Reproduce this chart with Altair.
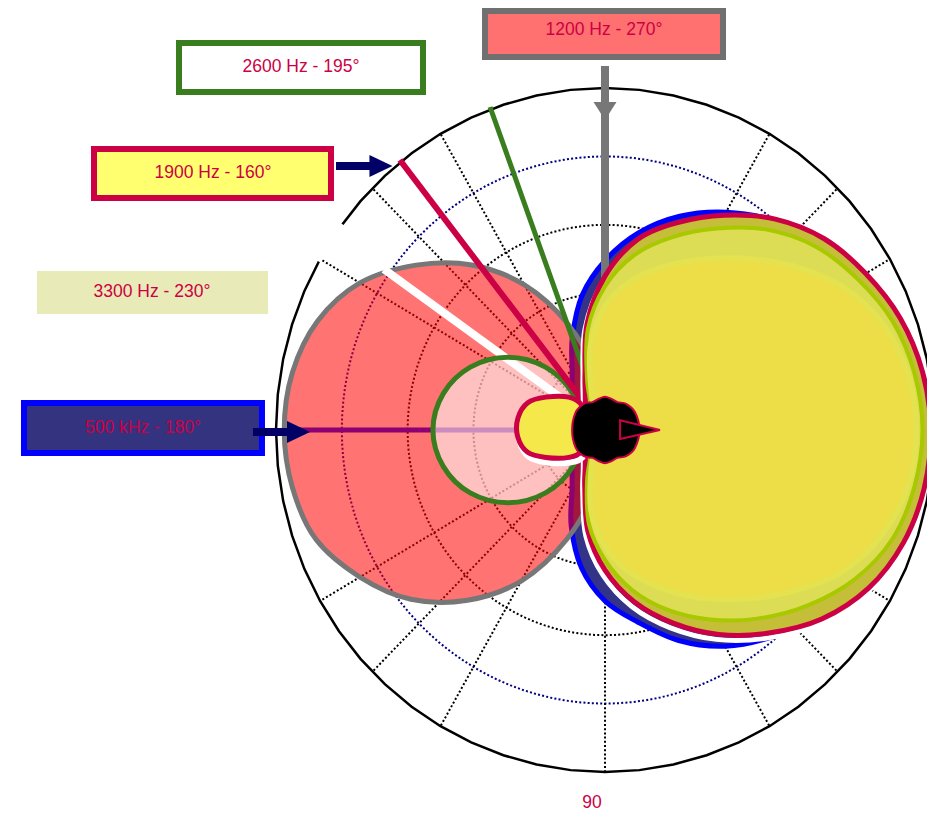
import altair as alt
import pandas as pd

# ---------------- data (angle in degrees, counter-clockwise from the right; radius relative) ----------------
BIG_ANGLES = list(range(0, 360, 10))
R_500K = [0.95, 0.945, 0.925, 0.895, 0.86, 0.80, 0.735, 0.665, 0.585, 0.495, 0.40, 0.29,
          0.20, 0.156, 0.13, 0.115, 0.106, 0.102, 0.10, 0.102, 0.106, 0.115, 0.13, 0.156,
          0.20, 0.30, 0.41, 0.50, 0.57, 0.655, 0.73, 0.79, 0.845, 0.89, 0.92, 0.94]
R_1900 = [0.99, 0.98, 0.955, 0.915, 0.87, 0.805, 0.725, 0.645, 0.565, 0.45, 0.315, 0.178,
          0.12, 0.093, 0.078, 0.069, 0.064, 0.061, 0.06, 0.061, 0.064, 0.069, 0.078, 0.093,
          0.12, 0.18, 0.30, 0.41, 0.51, 0.60, 0.69, 0.775, 0.86, 0.925, 0.965, 0.985]
R_INNER = [0.965, 0.955, 0.93, 0.885, 0.835, 0.765, 0.68, 0.60, 0.52, 0.42, 0.30, 0.16,
           0.085, 0.064, 0.054, 0.048, 0.044, 0.042, 0.041, 0.042, 0.044, 0.048, 0.054, 0.064,
           0.085, 0.16, 0.28, 0.38, 0.475, 0.56, 0.64, 0.72, 0.80, 0.875, 0.93, 0.955]
R_CORE = [0.945, 0.935, 0.90, 0.835, 0.745, 0.655, 0.575, 0.505, 0.44, 0.36, 0.25, 0.12,
          0.06, 0.045, 0.038, 0.034, 0.032, 0.03, 0.03, 0.03, 0.032, 0.034, 0.038, 0.045,
          0.06, 0.12, 0.24, 0.34, 0.42, 0.49, 0.565, 0.645, 0.735, 0.83, 0.895, 0.935]

RED_ANGLES = list(range(90, 270, 10))
R_1200 = [0.0, 0.17, 0.33, 0.49, 0.63, 0.75, 0.86, 0.93, 0.965, 0.975, 0.965, 0.935,
          0.86, 0.77, 0.65, 0.51, 0.34, 0.17]

GREEN_ANGLES = [180, 132.6, 134.5, 144.2, 155.8, 167.8, 180, 192.2, 204.2, 215.8, 225.5, 227.4]
R_2600 = [0.067, 0.145, 0.258, 0.364, 0.449, 0.503, 0.523, 0.503, 0.449, 0.364, 0.258, 0.145]

OVAL_ANGLES = [180, 135, 138.9, 151.9, 161.2, 172.5, 184.3, 195.5, 204, 216, 220.6]
R_OVAL = [0.06, 0.099, 0.146, 0.204, 0.248, 0.267, 0.266, 0.244, 0.197, 0.136, 0.092]

BLOB_ANGLES = [0, 30, 50, 65, 80, 90, 100, 115, 130, 150,
               180, 210, 230, 245, 260, 270, 280, 295, 310, 330]
R_BLOB = [0.105, 0.105, 0.10, 0.09, 0.094, 0.097, 0.094, 0.09, 0.10, 0.103,
          0.10, 0.103, 0.10, 0.09, 0.094, 0.097, 0.094, 0.09, 0.10, 0.105]

TRI_ANGLES = [0, 32, 330]
R_TRI = [0.167, 0.054, 0.053]

DIR_NAMES = ["1200", "500k", "3300", "2600", "1900"]
DIR_ANGLES = [90, 180, 145, 110.3, 128.3]
DIR_R0 = [0.0, 0.0, 0.15, 0.05, 0.05]
DIR_R1 = [1.064, 0.93, 0.82, 1.007, 1.006]
GAP_ANGLES = [143, 145, 147, 149, 150.5]   # white break in the outer ring (3300 Hz trace)

RING_R = [0.2, 0.4, 0.6]
RING_R_BLUE = [0.8]
SPOKE_ANGLES = [0, 30, 45, 60, 90, 120, 135, 150, 180, 210, 225, 240, 270, 300, 315, 330]

LABELS = ["1200 Hz - 270°", "2600 Hz - 195°", "1900 Hz - 160°", "3300 Hz - 230°", "500 kHz - 180°"]
ANGLE_TICK = ["90"]

# ---------------- layout (data units of the polar frame) ----------------
XMIN, XMAX = -1.81459, 0.97872
YMIN, YMAX = -1.12281, 1.23392
xs = alt.Scale(domain=[XMIN, XMAX], nice=False, zero=False)
ys = alt.Scale(domain=[YMIN, YMAX], nice=False, zero=False)
POLAR = dict(px="datum.r*cos(datum.a*PI/180)", py="datum.r*sin(datum.a*PI/180)")
FONT = "Liberation Sans, Arial, sans-serif"
FS = 17.5
CRIMSON = "#CC0044"


def enc(ch):
    return ch.encode(x=alt.X("px:Q", scale=xs, axis=None),
                     y=alt.Y("py:Q", scale=ys, axis=None),
                     order=alt.Order("i:Q"))


def lobe(angles, radii, interp="cardinal-closed", **mk):
    df = pd.DataFrame({"i": range(len(angles)), "a": angles, "r": radii})
    return enc(alt.Chart(df).transform_calculate(**POLAR).mark_line(interpolate=interp, **mk))


def rings(radii, color):
    rows = [{"ring": r, "i": k, "a": a, "r": r} for r in radii for k, a in enumerate(range(0, 360, 3))]
    ch = alt.Chart(pd.DataFrame(rows)).transform_calculate(**POLAR).mark_line(
        interpolate="linear-closed", stroke=color, strokeWidth=2, strokeDash=[2, 2.2])
    return ch.encode(x=alt.X("px:Q", scale=xs, axis=None), y=alt.Y("py:Q", scale=ys, axis=None),
                     order=alt.Order("i:Q"), detail="ring:N")


def radial(df, **mk):
    return alt.Chart(df).transform_calculate(
        px="datum.r0*cos(datum.a*PI/180)", py="datum.r0*sin(datum.a*PI/180)",
        px2="datum.r1*cos(datum.a*PI/180)", py2="datum.r1*sin(datum.a*PI/180)"
    ).mark_rule(**mk).encode(x=alt.X("px:Q", scale=xs, axis=None), y=alt.Y("py:Q", scale=ys, axis=None),
                             x2="px2:Q", y2="py2:Q")


dirs = pd.DataFrame({"name": DIR_NAMES, "a": DIR_ANGLES, "r0": DIR_R0, "r1": DIR_R1})


def dir_line(name, color, width):
    return radial(dirs[dirs.name == name], stroke=color, strokeWidth=width, strokeCap="butt")


spokes = radial(pd.DataFrame({"a": SPOKE_ANGLES, "r0": 0.0, "r1": 1.0}),
                stroke="black", strokeWidth=2, strokeDash=[2, 2.2])
outer = lobe(list(range(0, 360, 6)), [1.0] * 60, interp="linear-closed",
             stroke="black", strokeWidth=2.5, fill=None)
gap = lobe(GAP_ANGLES, [1.0] * len(GAP_ANGLES), interp="linear", stroke="white", strokeWidth=5, fill=None)

# label boxes
boxes = pd.DataFrame({
    "label": LABELS,
    "x1": [-0.3647, -1.2948, -1.5532, -1.7264, -1.7660],
    "x2": [0.3587, -0.5532, -0.8328, -1.0243, -1.0426],
    "y1": [1.0906, 0.9883, 0.6784, 0.3392, -0.0673],
    "y2": [1.2251, 1.1316, 0.8216, 0.4649, 0.0789],
    "tx": [-0.003, -0.924, -1.1915, -1.3769, -1.4043],
    "ty": [1.1696, 1.0614, 0.7515, 0.4035, 0.0058],
    "fill": ["#FF7070", "#FFFFFF", "#FFFF70", "#E8EBB8", "#333380"],
    "stroke": ["#707070", "#3A7D1E", CRIMSON, "#E8EBB8", "#0000FF"],
    "sw": [6, 6, 6, 0, 6],
})
box_layer = alt.Chart(boxes).mark_rect().encode(
    x=alt.X("x1:Q", scale=xs, axis=None), x2="x2:Q",
    y=alt.Y("y1:Q", scale=ys, axis=None), y2="y2:Q",
    fill=alt.Fill("fill:N", scale=None), stroke=alt.Stroke("stroke:N", scale=None),
    strokeWidth=alt.StrokeWidth("sw:Q", scale=None))
box_text = alt.Chart(boxes).mark_text(font=FONT, fontSize=FS, color=CRIMSON, align="center",
                                      baseline="middle").encode(
    x=alt.X("tx:Q", scale=xs, axis=None), y=alt.Y("ty:Q", scale=ys, axis=None), text="label:N")
tick_text = alt.Chart(pd.DataFrame({"t": ANGLE_TICK, "tx": [-0.0395], "ty": [-1.0906]})).mark_text(
    font=FONT, fontSize=FS, color=CRIMSON, align="center", baseline="middle").encode(
    x=alt.X("tx:Q", scale=xs, axis=None), y=alt.Y("ty:Q", scale=ys, axis=None), text="t:N")

# annotation arrows
shafts = pd.DataFrame({"x1": [-0.8176, -1.07], "x2": [-0.70, -0.951], "y": [0.7719, -0.0058]})
shaft_layer = alt.Chart(shafts).mark_rule(stroke="#000066", strokeWidth=8, strokeCap="butt").encode(
    x=alt.X("x1:Q", scale=xs, axis=None), x2="x2:Q", y=alt.Y("y:Q", scale=ys, axis=None))
heads = pd.DataFrame({"x": [-0.681, -0.9316], "y": [0.7719, -0.0058]})
head_layer = alt.Chart(heads).mark_point(shape="M-1,-0.96L1,0L-1,0.96Z", size=529, filled=True,
                                         fill="#000066", stroke=None, opacity=1).encode(
    x=alt.X("x:Q", scale=xs, axis=None), y=alt.Y("y:Q", scale=ys, axis=None))
gray_head = alt.Chart(pd.DataFrame({"x": [0.0], "y": [0.9327]})).mark_point(
    shape="M-1,-0.78L1,-0.78L0,0.78Z", size=529, filled=True, fill="#777777", stroke=None,
    opacity=1).encode(x=alt.X("x:Q", scale=xs, axis=None), y=alt.Y("y:Q", scale=ys, axis=None))

layers = [
    rings(RING_R, "black"),
    rings(RING_R_BLUE, "#000080"),
    spokes,
    outer,
    gap,
    dir_line("500k", "#0000FF", 5),
    lobe(BIG_ANGLES, R_500K, fill="#333388", stroke="#0000FF", strokeWidth=5),
    dir_line("1200", "#777777", 8),
    lobe(RED_ANGLES, R_1200, fill="#FF0000", fillOpacity=0.55, stroke="#777777", strokeWidth=5),
    dir_line("3300", "white", 8),
    lobe(GREEN_ANGLES, R_2600, fill="white", fillOpacity=0.55, stroke="#3A7D1E", strokeWidth=5),
    dir_line("2600", "#3A7D1E", 5),
    dir_line("1900", CRIMSON, 6),
    lobe(BIG_ANGLES, R_1900, stroke="white", strokeWidth=5, fill=None, yOffset=5, xOffset=-2),
    lobe(BIG_ANGLES, R_1900, fill="#C4BE38", stroke=CRIMSON, strokeWidth=5),
    lobe(BIG_ANGLES, R_INNER, fill="#DDDD55", stroke="#A8C800", strokeWidth=4),
    lobe(BIG_ANGLES, R_CORE, fill="#EDDD46", stroke="#E4E24E", strokeWidth=6),
    lobe(OVAL_ANGLES, R_OVAL, stroke="white", strokeWidth=6, fill=None, yOffset=5, xOffset=2),
    lobe(OVAL_ANGLES, R_OVAL, fill="#F5E84A", stroke=CRIMSON, strokeWidth=5),
    lobe(BLOB_ANGLES, R_BLOB, fill="black", stroke=CRIMSON, strokeWidth=2),
    lobe(TRI_ANGLES, R_TRI, interp="linear-closed", fill="black", stroke=CRIMSON, strokeWidth=2),
    box_layer, box_text, tick_text, shaft_layer, head_layer, gray_head,
]

chart = alt.layer(*layers).properties(
    width=919, height=806, padding=0, autosize="none"
).configure_view(stroke=None)

chart.save("out.html", embed_options={"renderer": "svg", "actions": False})
